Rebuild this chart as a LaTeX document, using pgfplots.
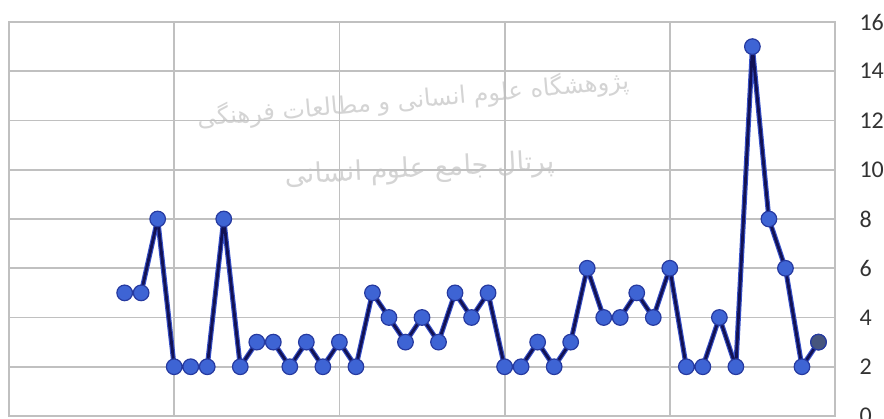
\documentclass[border=0pt]{standalone}
\usepackage{pgfplots}
\pgfplotsset{compat=1.18}
\usepackage{pgfplotstable}
\usepackage{fontspec}
\setmainfont{Carlito}
\newfontfamily\arabicfont[Script=Arabic]{DejaVu Sans}
\TeXXeTstate=1
\definecolor{linecol}{RGB}{18,18,85}
\definecolor{halo}{RGB}{55,80,200}
\definecolor{markfill}{RGB}{62,100,212}
\definecolor{markedge}{RGB}{38,58,160}
\definecolor{lastfill}{RGB}{70,85,125}
\definecolor{gridcol}{RGB}{192,192,192}
\definecolor{wm}{RGB}{212,212,212}
\pgfplotstableread{
x y
7 5
8 5
9 8
10 2
11 2
12 2
13 8
14 2
15 3
16 3
17 2
18 3
19 2
20 3
21 2
22 5
23 4
24 3
25 4
26 3
27 5
28 4
29 5
30 2
31 2
32 3
33 2
34 3
35 6
36 4
37 4
38 5
39 4
40 6
41 2
42 2
43 4
44 2
45 15
46 8
47 6
48 2
49 3
}\datatable
\begin{document}
\begin{tikzpicture}
\node[text=wm, font=\arabicfont\fontsize{24}{28}\selectfont, rotate=5] at (404pt,316pt) {\beginR پژوهشگاه علوم انسانی و مطالعات فرهنگی\endR};
\node[text=wm, font=\arabicfont\fontsize{27}{31}\selectfont, rotate=3] at (411pt,246pt) {\beginR پرتال جامع علوم انسانی\endR};
\begin{axis}[at={(0,0)}, anchor=south west, scale only axis, width=826pt, height=394pt,
  xmin=0, xmax=50, ymin=0, ymax=16,
  xtick={0,10,...,50}, xticklabels={},
  ytick={0,2,...,16},
  yticklabel pos=right, major tick length=0pt,
  grid=major, major grid style={gridcol, line width=1.8pt},
  axis line style={gridcol, line width=1.8pt},
  tick label style={font=\fontsize{24}{28}\selectfont, text=black!80},
  /pgf/number format/assume math mode=true,
  yticklabel style={anchor=west, xshift=21pt},
  clip=false, axis background/.style={fill=none}]
\addplot[color=halo, line width=5pt, line join=round, no marks] table[x=x,y=y] {\datatable};
\addplot[color=linecol, line width=2.8pt, line join=round, no marks] table[x=x,y=y] {\datatable};
\addplot[only marks, mark=*, mark size=7.8pt,
  mark options={fill=markfill, draw=markedge, line width=1.2pt}] table[x=x,y=y] {\datatable};
\addplot[only marks, mark=*, mark size=7.8pt,
  mark options={fill=lastfill, draw=markedge, line width=1.2pt}]
  coordinates {(49,3)};
\end{axis}
\pgfresetboundingbox
\path[use as bounding box] (-9pt,-2pt) rectangle (875pt,416pt);
\end{tikzpicture}
\end{document}
